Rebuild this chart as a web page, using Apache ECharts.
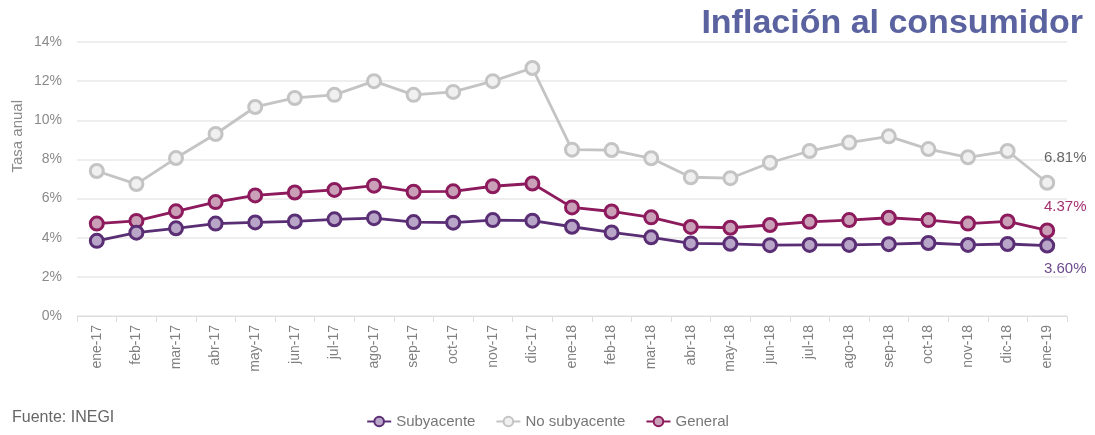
<!DOCTYPE html>
<html>
<head>
<meta charset="utf-8">
<script src="https://cdn.jsdelivr.net/npm/echarts@6/dist/echarts.min.js"></script>
<style>
  html, body { margin: 0; padding: 0; background: #fff; }
  #chart { width: 1095px; height: 435px; }
</style>
</head>
<body>
<div id="chart"></div>
<script>
var months = ['ene-17', 'feb-17', 'mar-17', 'abr-17', 'may-17', 'jun-17', 'jul-17', 'ago-17', 'sep-17', 'oct-17', 'nov-17', 'dic-17',
  'ene-18', 'feb-18', 'mar-18', 'abr-18', 'may-18', 'jun-18', 'jul-18', 'ago-18', 'sep-18', 'oct-18', 'nov-18', 'dic-18', 'ene-19'];

var subyacente = [3.84, 4.26, 4.48, 4.72, 4.78, 4.83, 4.94, 5.00, 4.80, 4.77, 4.90, 4.87,
  4.56, 4.27, 4.02, 3.71, 3.69, 3.62, 3.63, 3.63, 3.67, 3.73, 3.63, 3.68, 3.60];

var noSubyacente = [7.41, 6.74, 8.07, 9.30, 10.68, 11.14, 11.30, 12.00, 11.30, 11.45, 12.00, 12.67,
  8.50, 8.48, 8.06, 7.09, 7.04, 7.83, 8.43, 8.86, 9.18, 8.53, 8.11, 8.43, 6.81];

var general = [4.72, 4.86, 5.35, 5.82, 6.16, 6.31, 6.44, 6.66, 6.35, 6.37, 6.63, 6.77,
  5.55, 5.34, 5.04, 4.55, 4.51, 4.65, 4.81, 4.90, 5.02, 4.90, 4.72, 4.83, 4.37];

var yTicks = [0, 2, 4, 6, 8, 10, 12, 14];

var font = '"Liberation Sans", Arial, sans-serif';

function makeSeries(name, data, color, fill, labelPos, labelOffset, labelColor) {
  var last = data.length - 1;
  return {
    name: name,
    type: 'line',
    data: data.map(function (v, i) {
      if (i !== last) return v;
      return {
        value: v,
        label: {
          show: true,
          position: labelPos,
          offset: labelOffset,
          formatter: function (p) { return p.value.toFixed(2) + '%'; },
          color: labelColor,
          fontSize: 15,
          fontFamily: font
        }
      };
    }),
    symbol: 'circle',
    symbolSize: 13,
    lineStyle: { color: color, width: 2.8 },
    itemStyle: { color: fill, borderColor: color, borderWidth: 3 },
    emphasis: { disabled: true },
    animation: false
  };
}

var chart = echarts.init(document.getElementById('chart'));

var option = {
  backgroundColor: '#fff',
  textStyle: { fontFamily: font },
  title: {
    text: 'Inflación al consumidor',
    right: 7,
    top: 2,
    textStyle: { color: '#5a62a0', fontSize: 34, fontWeight: 'bold', fontFamily: font }
  },
  grid: { left: 77, right: 28, top: 42, bottom: 119 },
  legend: {
    bottom: 1,
    left: 'center',
    itemGap: 20,
    itemWidth: 24,
    itemHeight: 12,
    textStyle: { color: '#777', fontSize: 15, fontFamily: font },
    data: ['Subyacente', 'No subyacente', 'General']
  },
  xAxis: {
    type: 'category',
    data: months,
    axisLine: { lineStyle: { color: '#dcdcdc' } },
    axisTick: { show: true, length: 6, lineStyle: { color: '#dcdcdc' } },
    axisLabel: { rotate: 90, color: '#808080', fontSize: 14, margin: 9, interval: 0 }
  },
  yAxis: {
    type: 'value',
    min: yTicks[0],
    max: yTicks[yTicks.length - 1],
    interval: 2,
    axisLine: { show: false },
    axisTick: { show: false },
    axisLabel: { color: '#8a8a8a', fontSize: 14, margin: 15, formatter: '{value}%' },
    splitLine: { lineStyle: { color: '#e8e8e8', width: 1.5 } }
  },
  graphic: [
    {
      type: 'text',
      left: 10,
      top: 100,
      rotation: Math.PI / 2,
      style: { text: 'Tasa anual', fill: '#8a8a8a', fontSize: 15, fontFamily: font }
    },
    {
      type: 'text',
      left: 12,
      top: 410,
      style: { text: 'Fuente: INEGI', fill: '#666', fontSize: 16, fontFamily: font }
    }
  ],
  series: [
    makeSeries('No subyacente', noSubyacente, '#c4c4c4', '#f0f0f0', 'top', [18, -4], '#666'),
    makeSeries('General', general, '#8c1a5c', '#c9a0b8', 'top', [18, -3], '#a3306f'),
    makeSeries('Subyacente', subyacente, '#5a2e74', '#b9a5c8', 'bottom', [18, 3], '#6c4a8c')
  ]
};

chart.setOption(option);
</script>
</body>
</html>
